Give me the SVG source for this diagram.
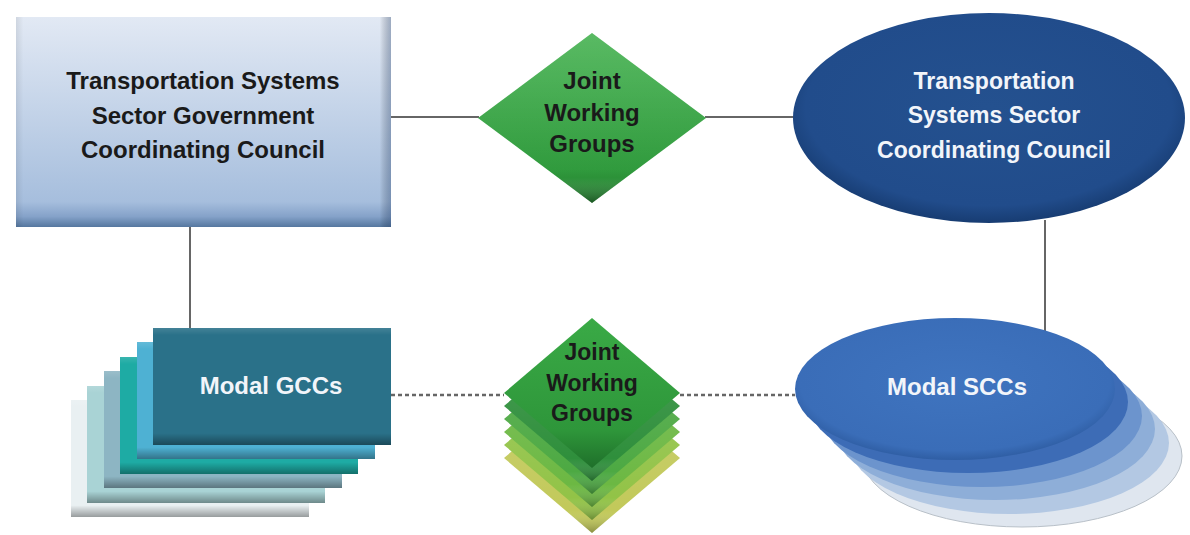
<svg xmlns="http://www.w3.org/2000/svg" width="1190" height="535" viewBox="0 0 1190 535">
  <defs>
    <linearGradient id="gRect" x1="0" y1="0" x2="0" y2="1">
      <stop offset="0" stop-color="#e2e9f4"/>
      <stop offset="0.88" stop-color="#a6bedd"/>
      <stop offset="0.95" stop-color="#85a2c9"/>
      <stop offset="1" stop-color="#55779f"/>
    </linearGradient>
    <linearGradient id="gRectSide" x1="0" y1="0" x2="1" y2="0">
      <stop offset="0" stop-color="#000" stop-opacity="0.08"/>
      <stop offset="0.02" stop-color="#000" stop-opacity="0"/>
      <stop offset="0.97" stop-color="#000" stop-opacity="0"/>
      <stop offset="1" stop-color="#1e3a66" stop-opacity="0.35"/>
    </linearGradient>
    <radialGradient id="gNavy" cx="0.5" cy="0.45" r="0.55">
      <stop offset="0" stop-color="#24518f"/>
      <stop offset="0.85" stop-color="#214c8b"/>
      <stop offset="1" stop-color="#173c72"/>
    </radialGradient>
    <linearGradient id="gGreen" x1="0" y1="0" x2="0" y2="1">
      <stop offset="0" stop-color="#3cae48"/>
      <stop offset="0.8" stop-color="#2f9a3c"/>
      <stop offset="1" stop-color="#237a2e"/>
    </linearGradient>
    <linearGradient id="gGreenFront" x1="0" y1="0" x2="0" y2="1">
      <stop offset="0" stop-color="#3aaa46"/>
      <stop offset="0.75" stop-color="#2e963a"/>
      <stop offset="1" stop-color="#1f6f2a"/>
    </linearGradient>
    <linearGradient id="gBevel" x1="0" y1="0" x2="0" y2="1">
      <stop offset="0" stop-color="#fff" stop-opacity="0.15"/>
      <stop offset="0.85" stop-color="#fff" stop-opacity="0"/>
      <stop offset="1" stop-color="#000" stop-opacity="0.3"/>
    </linearGradient>
    <linearGradient id="gRectBevel" x1="0" y1="0" x2="0" y2="1">
      <stop offset="0" stop-color="#fff" stop-opacity="0.12"/>
      <stop offset="0.06" stop-color="#fff" stop-opacity="0"/>
      <stop offset="0.9" stop-color="#000" stop-opacity="0"/>
      <stop offset="1" stop-color="#000" stop-opacity="0.35"/>
    </linearGradient>
    <radialGradient id="gBlue" cx="0.5" cy="0.45" r="0.55">
      <stop offset="0" stop-color="#3f74bf"/>
      <stop offset="0.88" stop-color="#3a6db8"/>
      <stop offset="1" stop-color="#2f5ea4"/>
    </radialGradient>
  </defs>
  <style>
    .conn { stroke: #666; stroke-width: 2; fill: none; }
    .dot { stroke: #666; stroke-width: 2.5; stroke-dasharray: 4 3; fill: none; }
    .t { font-family: "Liberation Sans", Arial, sans-serif; font-weight: bold; text-anchor: middle; }
    .dk { fill: #1a1a1a; }
    .wh { fill: #f2f5fa; }
    .f24 { font-size: 24px; }
    .f23 { font-size: 23px; }
  </style>
  <rect width="1190" height="535" fill="#ffffff"/>

  <g id="connectors">
    <line class="conn" x1="391" y1="117" x2="479" y2="117"/>
    <line class="conn" x1="705" y1="117" x2="795" y2="117"/>
    <line class="conn" x1="190" y1="227" x2="190" y2="328"/>
    <line class="conn" x1="1045" y1="220" x2="1045" y2="331"/>
    <line class="dot" x1="391" y1="395" x2="504" y2="395"/>
    <line class="dot" x1="680" y1="395" x2="795" y2="395"/>
  </g>

  <g id="gcc-top">
    <rect x="16" y="17" width="375" height="210" fill="url(#gRect)"/>
    <rect x="16" y="17" width="375" height="210" fill="url(#gRectSide)"/>
    <text class="t dk f24" x="203" y="89">Transportation Systems</text>
    <text class="t dk f24" x="203" y="124">Sector Government</text>
    <text class="t dk f24" x="203" y="158">Coordinating Council</text>
  </g>

  <g id="jwg-top">
    <polygon points="592,33 706,118 592,203 478,118" fill="url(#gGreen)"/>
    <polygon points="592,33 706,118 592,203 478,118" fill="url(#gBevel)"/>
    <text class="t dk f24" x="592" y="89">Joint</text>
    <text class="t dk f24" x="592" y="121">Working</text>
    <text class="t dk f24" x="592" y="152">Groups</text>
  </g>

  <g id="scc-top">
    <ellipse cx="989" cy="118" rx="196" ry="105" fill="url(#gNavy)"/>
    <text class="t wh f23" x="994" y="89">Transportation</text>
    <text class="t wh f23" x="994" y="123">Systems Sector</text>
    <text class="t wh f23" x="994" y="158">Coordinating Council</text>
  </g>

  <g id="gcc-modal">
    <rect x="71" y="400" width="238" height="117" fill="#e9f0f2"/>
    <rect x="71" y="400" width="238" height="117" fill="url(#gRectBevel)"/>
    <rect x="87" y="386" width="238" height="117" fill="#a9d3d5"/>
    <rect x="87" y="386" width="238" height="117" fill="url(#gRectBevel)"/>
    <rect x="104" y="371" width="238" height="117" fill="#8db5c3"/>
    <rect x="104" y="371" width="238" height="117" fill="url(#gRectBevel)"/>
    <rect x="120" y="357" width="238" height="117" fill="#1eaba4"/>
    <rect x="120" y="357" width="238" height="117" fill="url(#gRectBevel)"/>
    <rect x="137" y="342" width="238" height="117" fill="#4eb1d3"/>
    <rect x="137" y="342" width="238" height="117" fill="url(#gRectBevel)"/>
    <rect x="153" y="328" width="238" height="117" fill="#2a7189"/>
    <rect x="153" y="328" width="238" height="117" fill="url(#gRectBevel)"/>
    <text class="t wh f24" x="271" y="394">Modal GCCs</text>
  </g>

  <g id="jwg-modal">
    <polygon points="592,383 680,458 592,533 504,458" fill="#c2c95a"/>
    <polygon points="592,383 680,458 592,533 504,458" fill="url(#gBevel)"/>
    <polygon points="592,370 680,445 592,520 504,445" fill="#92c347"/>
    <polygon points="592,370 680,445 592,520 504,445" fill="url(#gBevel)"/>
    <polygon points="592,357 680,432 592,507 504,432" fill="#6cb843"/>
    <polygon points="592,357 680,432 592,507 504,432" fill="url(#gBevel)"/>
    <polygon points="592,344 680,419 592,494 504,419" fill="#4da943"/>
    <polygon points="592,344 680,419 592,494 504,419" fill="url(#gBevel)"/>
    <polygon points="592,331 680,406 592,481 504,406" fill="#2f8f3c"/>
    <polygon points="592,331 680,406 592,481 504,406" fill="url(#gBevel)"/>
    <polygon points="592,318 680,393 592,468 504,393" fill="url(#gGreenFront)"/>
    <text class="t dk f23" x="592" y="360">Joint</text>
    <text class="t dk f23" x="592" y="391">Working</text>
    <text class="t dk f23" x="592" y="421">Groups</text>
  </g>

  <g id="scc-modal">
    <ellipse cx="1022" cy="456" rx="160" ry="71" fill="#dfe6ef" stroke="#b8c0c8" stroke-width="1"/>
    <ellipse cx="1009" cy="443" rx="160" ry="71" fill="#b3c8e3"/>
    <ellipse cx="995" cy="429" rx="160" ry="71" fill="#8eaed8"/>
    <ellipse cx="982" cy="416" rx="160" ry="71" fill="#6c94cd"/>
    <ellipse cx="968" cy="402" rx="160" ry="71" fill="#3d6cb6"/>
    <ellipse cx="955" cy="389" rx="160" ry="71" fill="url(#gBlue)"/>
    <text class="t wh f24" x="957" y="395">Modal SCCs</text>
  </g>
</svg>
